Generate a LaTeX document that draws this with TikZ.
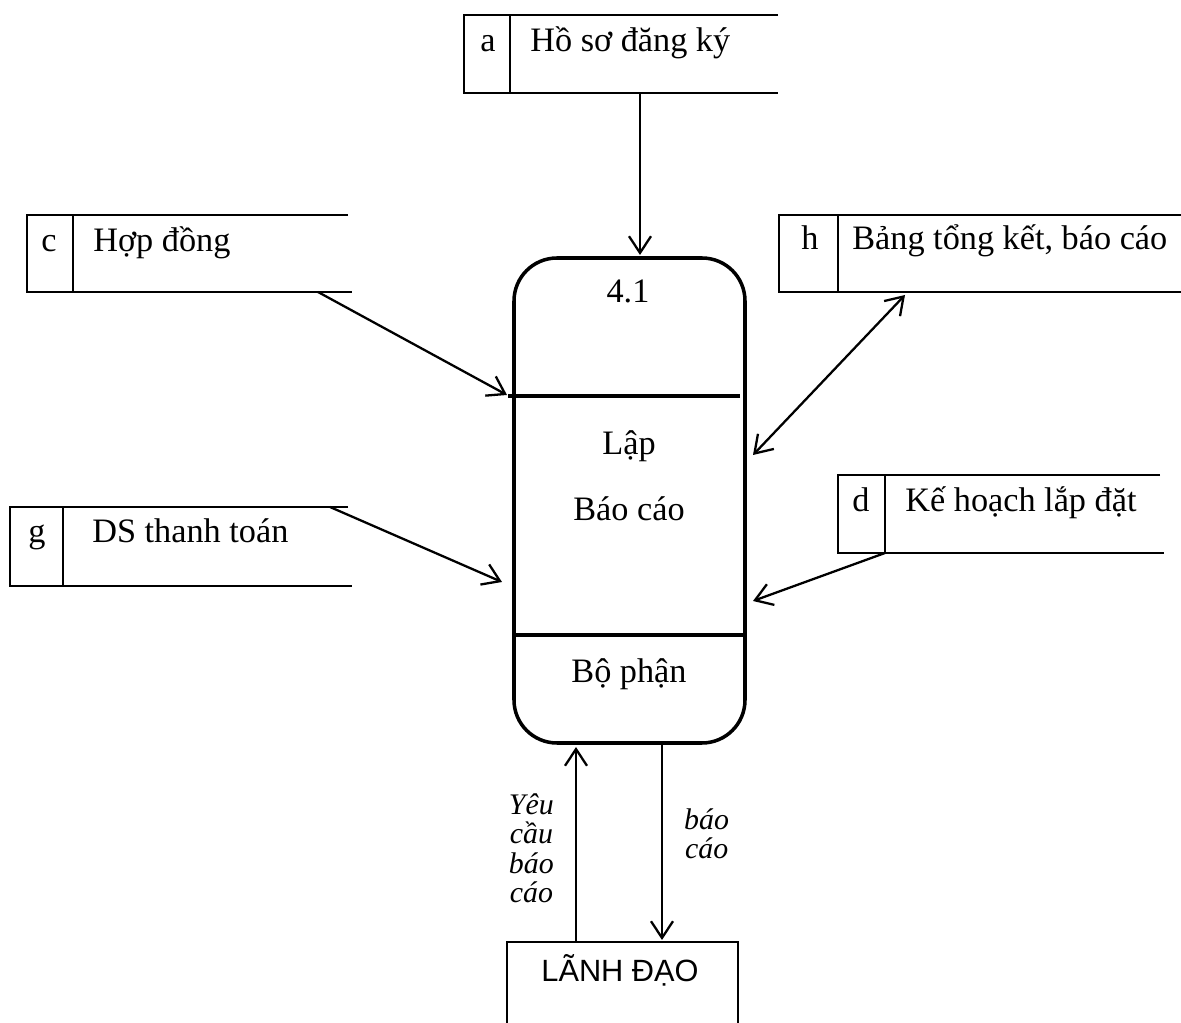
\documentclass[tikz,border=0pt]{standalone}
\usepackage{fontspec}
\setmainfont{Liberation Serif}
\newfontfamily\arialf{Liberation Sans}
\usetikzlibrary{arrows.meta, positioning}
\newcommand{\txtsize}{\fontsize{19.5}{23}\selectfont}
\newcommand{\lblsize}{\fontsize{17}{16.8}\selectfont}

\begin{document}
\begin{tikzpicture}[
  x=0.02cm, y=-0.02cm,
  every node/.style={font=\txtsize, inner sep=0pt},
  flow/.style={-{Straight Barb[length=9.5pt,width=12.5pt]}, line width=1.3pt},
  store/.style={line width=1.4pt},
  lbl/.style={font=\lblsize\itshape, align=center}
]
  \useasboundingbox (0,0) rectangle (1181,1023);

  % data stores
  \draw[store] (778,15) -- (464,15) -- (464,93) -- (778,93);
  \draw[store] (510,15) -- (510,93);
  \node[anchor=base] (a) at (488,52) {a};
  \node[anchor=base west] (a-txt) at (530,52) {Hồ sơ đăng ký};

  \draw[store] (348,215) -- (27,215) -- (27,292) -- (352,292);
  \draw[store] (73,215) -- (73,292);
  \node[anchor=base] (c) at (49,252) {c};
  \node[anchor=base west] (c-txt) at (93,252) {Hợp đồng};

  \draw[store] (1181,215) -- (779,215) -- (779,292) -- (1181,292);
  \draw[store] (838,215) -- (838,292);
  \node[anchor=base] (h) at (810,250) {h};
  \node[anchor=base west] (h-txt) at (852,250) {Bảng tổng kết, báo cáo};

  \draw[store] (348,507) -- (10,507) -- (10,586) -- (352,586);
  \draw[store] (63,507) -- (63,586);
  \node[anchor=base] (g) at (37,543) {g};
  \node[anchor=base west] (g-txt) at (92,543) {DS thanh toán};

  \draw[store] (1160,475) -- (838,475) -- (838,553) -- (1164,553);
  \draw[store] (885,475) -- (885,553);
  \node[anchor=base] (d) at (861,512) {d};
  \node[anchor=base west] (d-txt) at (905,512) {Kế hoạch lắp đặt};

  % process 4.1
  \draw[line width=2pt, rounded corners=0.86cm] (514,258) rectangle (745,743);
  \draw[line width=2pt] (508,396) -- (740,396);
  \draw[line width=2pt] (514,635) -- (745,635);
  \node[anchor=base] (p-id) at (628,303) {4.1};
  \node[anchor=base] (p-l1) at (629,455) {Lập};
  \node[anchor=base] (p-l2) at (629,521) {Báo cáo};
  \node[anchor=base] (p-who) at (629,683) {Bộ phận};

  % external entity
  \draw[store] (507,1023) -- (507,942) -- (738,942) -- (738,1023);
  \node[anchor=base, font=\arialf\fontsize{17.5}{20}\selectfont] (ld) at (620,982) {LÃNH ĐẠO};

  % flows
  \coordinate (a-out) at (640,93);
  \coordinate (p-top) at (640,255);
  \draw[flow] (a-out) -- (p-top);

  \coordinate (c-out) at (318,292);
  \coordinate (p-c) at (507,395);
  \draw[flow] (c-out) -- (p-c);

  \coordinate (g-out) at (330,507);
  \coordinate (p-g) at (502,582);
  \draw[flow] (g-out) -- (p-g);

  \coordinate (h-in) at (905,295);
  \coordinate (p-h) at (753,455);
  \draw[flow, {Straight Barb[length=9.5pt,width=12.5pt]}-{Straight Barb[length=9.5pt,width=12.5pt]}] (p-h) -- (h-in);

  \coordinate (d-out) at (885,553);
  \coordinate (p-d) at (753,601);
  \draw[flow] (d-out) -- (p-d);

  \coordinate (ld-up) at (576,942);
  \coordinate (p-bl) at (576,747);
  \draw[flow] (ld-up) -- node[lbl, left=12pt, pos=0.48] {Yêu\\cầu\\báo\\cáo} (p-bl);

  \coordinate (p-br) at (662,743);
  \coordinate (ld-top) at (662,940);
  \draw[flow] (p-br) -- node[lbl, right=12pt, pos=0.46] {báo\\cáo} (ld-top);
\end{tikzpicture}
\end{document}
